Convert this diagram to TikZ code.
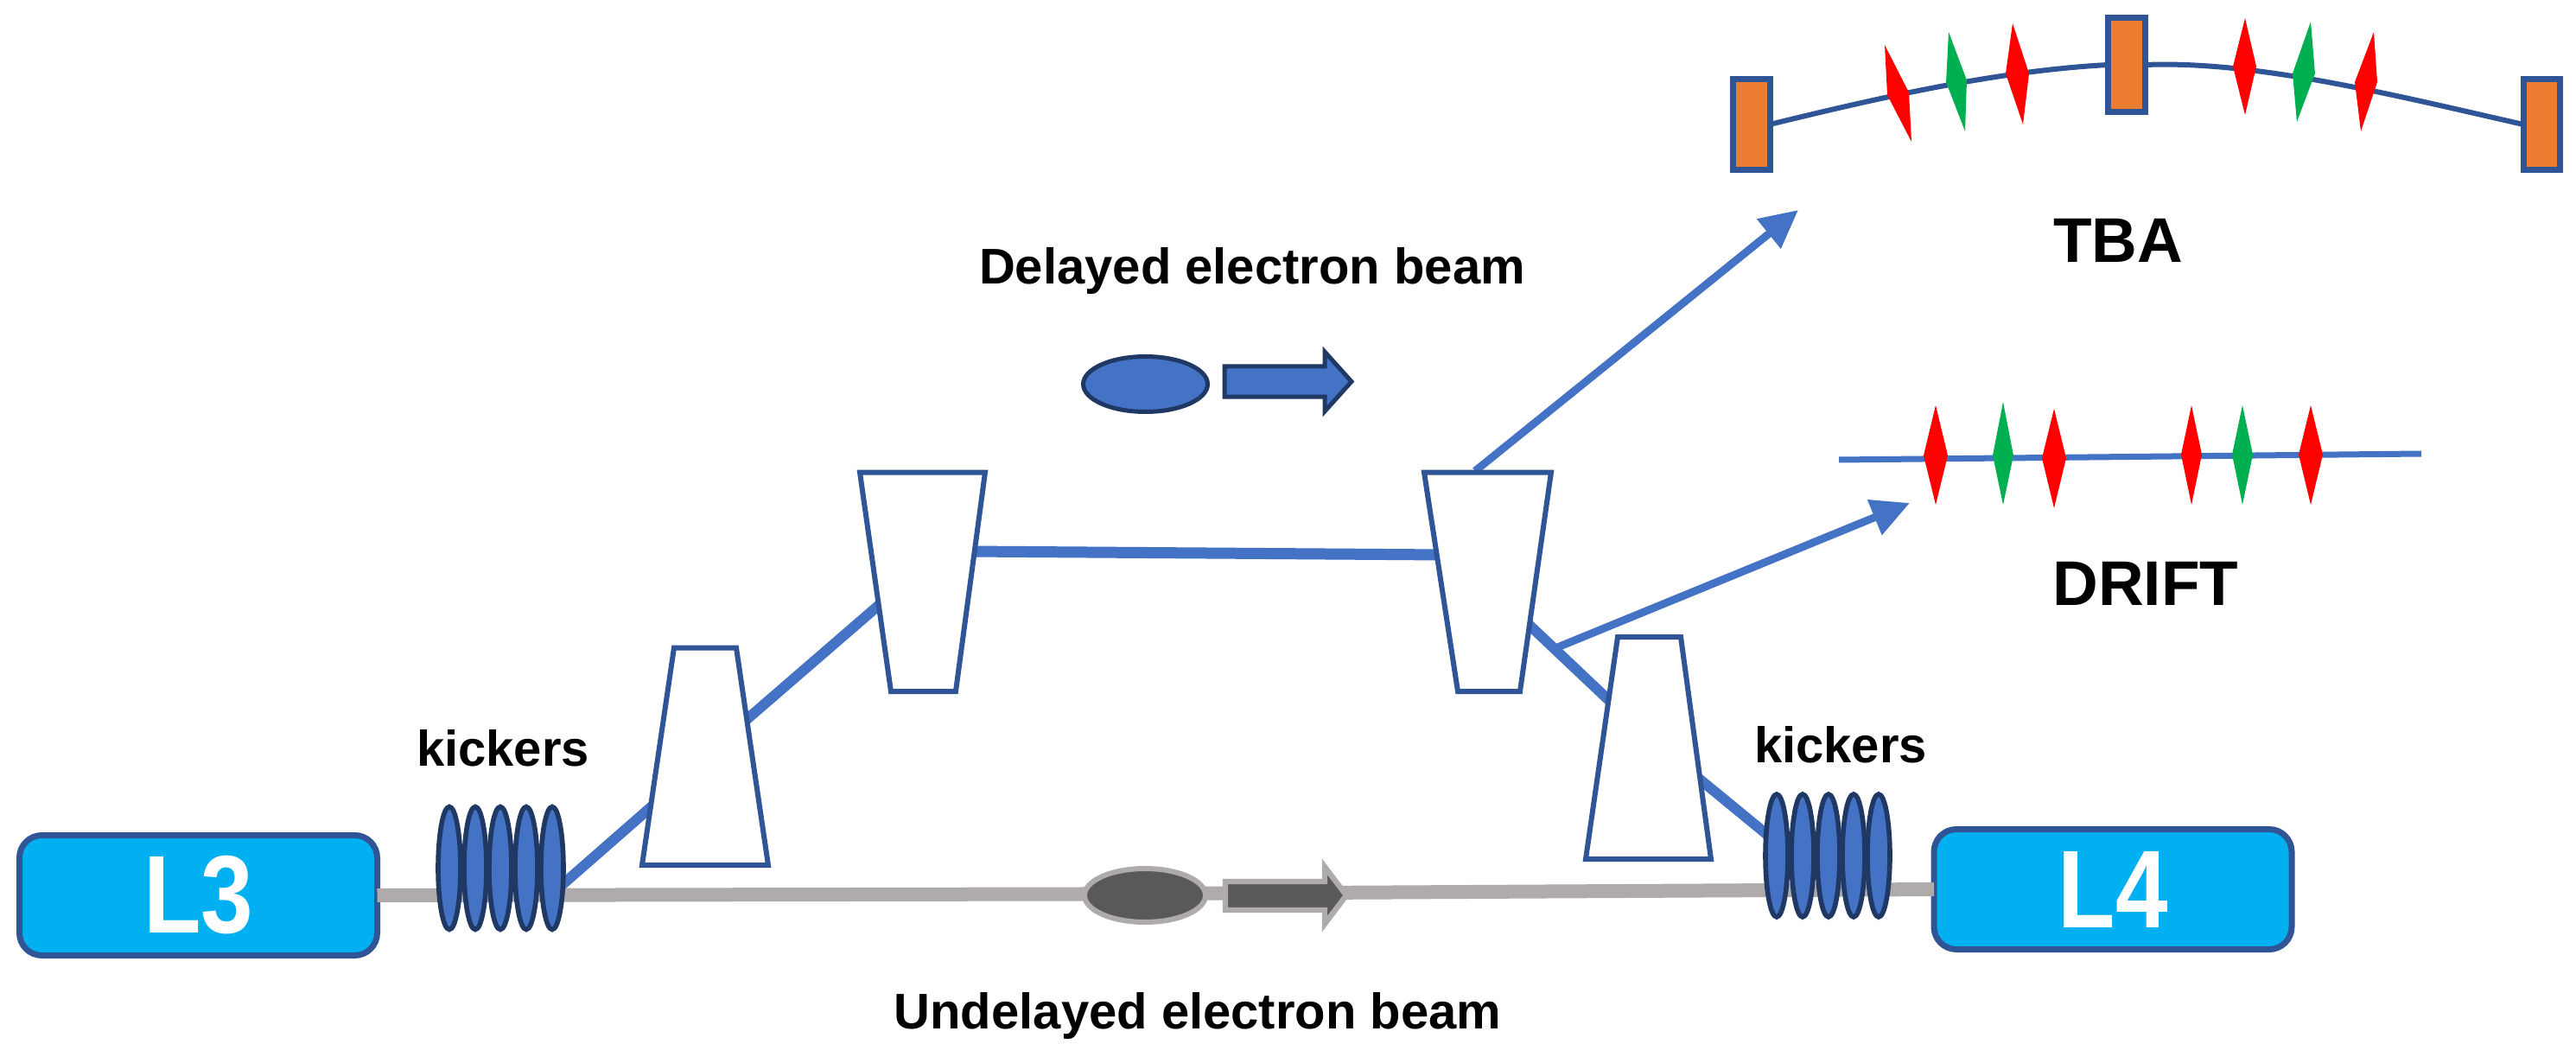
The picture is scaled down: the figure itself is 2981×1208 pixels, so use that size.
\documentclass[tikz,border=0pt]{standalone}
\usepackage{fontspec}
\setmainfont{Liberation Sans}
\usetikzlibrary{shapes.geometric,arrows.meta}
\definecolor{beamblue}{HTML}{4472C4}
\definecolor{edgeblue}{HTML}{2F5597}
\definecolor{navy}{HTML}{1F3864}
\definecolor{linacfill}{HTML}{00B0F0}
\definecolor{greyline}{HTML}{AFABAB}
\definecolor{bunchgrey}{HTML}{595959}
\definecolor{magorange}{HTML}{ED7D31}
\definecolor{quadgreen}{HTML}{00B050}
\definecolor{quadred}{HTML}{FF0000}
\tikzset{
  x=0.5pt,y=-0.5pt,
  linac/.style={draw=edgeblue,fill=linacfill,line width=3.5pt,rounded corners=13pt,minimum width=207pt,minimum height=69.5pt,inner sep=0pt,outer sep=0pt,text=white,font=\fontsize{64}{64}\selectfont\bfseries},
  kicker/.style={ellipse,draw=navy,fill=beamblue,line width=2.8pt,minimum width=13pt,minimum height=71pt,inner sep=0pt,outer sep=0pt},
  bendmag/.style={draw=edgeblue,fill=magorange,line width=3.5pt,minimum width=21.5pt,inner sep=0pt,outer sep=0pt},
  dipole/.style={draw=edgeblue,fill=white,line width=3pt,line join=miter},
  thickbeam/.style={draw=beamblue,line width=6pt},
  thinbeam/.style={draw=beamblue,line width=4.5pt,-{Triangle[length=22pt,width=21pt]},color=beamblue},
  textlabel/.style={anchor=base,inner sep=0pt,outer sep=0pt,font=\fontsize{29}{35}\selectfont\bfseries},
  biglabel/.style={anchor=base,inner sep=0pt,outer sep=0pt,font=\fontsize{36.5}{44}\selectfont\bfseries},
}
\begin{document}
\begin{tikzpicture}
\useasboundingbox (0,0) rectangle (2981,1208);
% anchor coordinates
\coordinate (a1) at (640,1033); \coordinate (a2) at (760,928);
\coordinate (b1) at (860,836); \coordinate (b2) at (1030,689);
\coordinate (c1) at (1120,638); \coordinate (c2) at (1672,642);
\coordinate (d1) at (1760,714); \coordinate (d2) at (1870,818);
\coordinate (e1) at (1960,896); \coordinate (e2) at (2055,974);
\coordinate (f1) at (1707,545); \coordinate (f2) at (2081,243);
\coordinate (g1) at (1800,750); \coordinate (g2) at (2210,582);
\coordinate (h1) at (2128,532); \coordinate (h2) at (2802,525);
% linacs
\node[linac] (L3) at (229.5,1036) {\scalebox{.85}[1]{L3}};
\node[linac] (L4) at (2445,1029) {\scalebox{.85}[1]{L4}};
% undelayed beam line
\draw[greyline,line width=8pt] (L3.east) -- (1250,1034.5) -- (L4.west);
% delayed beam
\draw[thickbeam] (a1) -- (a2);
\draw[thickbeam] (b1) -- (b2);
\draw[thickbeam,line width=6.5pt] (c1) -- (c2);
\draw[thickbeam] (d1) -- (d2);
\draw[thickbeam] (e1) -- (e2);
\draw[thinbeam] (f1) -- (f2);
% dipoles
\draw[dipole] (780,749.5) -- (852,749.5) -- (889,1001) -- (743,1001) -- cycle;
\draw[dipole] (995,546.5) -- (1140,546.5) -- (1106,800) -- (1031,800) -- cycle;
\draw[dipole] (1648,546.5) -- (1795,546.5) -- (1759,800) -- (1687,800) -- cycle;
\draw[dipole] (1872,737) -- (1945,737) -- (1980,994) -- (1835,994) -- cycle;
\draw[thinbeam] (g1) -- (g2);
% kickers
\foreach \n/\x in {1/520,2/550,3/579,4/609,5/639}
  \node[kicker] (ka\n) at (\x,1004.5) {};
\foreach \n/\x in {1/2056,2/2086,3/2116,4/2145,5/2174}
  \node[kicker] (kb\n) at (\x,990) {};
% delayed bunch
\node[ellipse,draw=navy,fill=beamblue,line width=2.5pt,minimum width=72pt,minimum height=32pt,inner sep=0pt] (bd) at (1325.5,444.5) {};
\draw[draw=navy,fill=beamblue,line width=2.5pt] (1417,424) -- (1533,424) -- (1533,407) -- (1564,441.5) -- (1533,476) -- (1533,459) -- (1417,459) -- cycle;
% undelayed bunch
\node[ellipse,draw=greyline,fill=bunchgrey,line width=3pt,minimum width=70pt,minimum height=31pt,inner sep=0pt] (bu) at (1325,1036) {};
\draw[draw=greyline,fill=bunchgrey,line width=3.2pt] (1418,1020) -- (1533,1020) -- (1533,1003) -- (1558,1036) -- (1533,1069) -- (1533,1053) -- (1418,1053) -- cycle;
% TBA line
\node[bendmag,minimum height=52.5pt] (tl) at (2026.5,144) {};
\node[bendmag,minimum height=54.5pt] (tm) at (2461,75) {};
\node[bendmag,minimum height=52.5pt,minimum width=21pt] (tr) at (2941,144) {};
\draw[edgeblue,line width=3pt] (tl.east) .. controls (2175,113) and (2310,82) .. (tm.west);
\draw[edgeblue,line width=3pt] (tm.east) .. controls (2610,70) and (2770,110) .. (tr.west);
\fill[quadred] (2181,52) -- (2209,107) -- (2212,164) -- (2184,110) -- cycle;
\fill[quadgreen] (2255,37) -- (2276,93) -- (2274,152) -- (2252,95) -- cycle;
\fill[quadred] (2329,27) -- (2348,85) -- (2341,144) -- (2321,85) -- cycle;
\fill[quadred] (2598,21) -- (2611,77) -- (2598,133) -- (2584,77) -- cycle;
\fill[quadgreen] (2674,25) -- (2679,85) -- (2658,141) -- (2653,85) -- cycle;
\fill[quadred] (2747,37) -- (2751,95) -- (2732,152) -- (2725,95) -- cycle;
% DRIFT line
\draw[beamblue,line width=3.5pt] (h1) -- (h2);
\fill[quadred] (2240,469) -- (2254,527) -- (2240,584) -- (2226,527) -- cycle;
\fill[quadgreen] (2318,465) -- (2330,527) -- (2318,584) -- (2306,527) -- cycle;
\fill[quadred] (2377,473) -- (2391,530) -- (2377,588) -- (2363,530) -- cycle;
\fill[quadred] (2536,469) -- (2548,526) -- (2536,584) -- (2524,526) -- cycle;
\fill[quadgreen] (2595,469) -- (2607,526) -- (2595,584) -- (2583,526) -- cycle;
\fill[quadred] (2674,469) -- (2688,526) -- (2674,584) -- (2660,526) -- cycle;
% labels
\node[textlabel] (t1) at (582,886) {kickers};
\node[textlabel] (t2) at (2130,882) {kickers};
\node[textlabel] (t3) at (1449,329) {Delayed electron beam};
\node[textlabel] (t4) at (1386,1190) {Undelayed electron beam};
\node[biglabel] (t5) at (2451,304) {TBA};
\node[biglabel] (t6) at (2483,700) {DRIFT};
\end{tikzpicture}
\end{document}
